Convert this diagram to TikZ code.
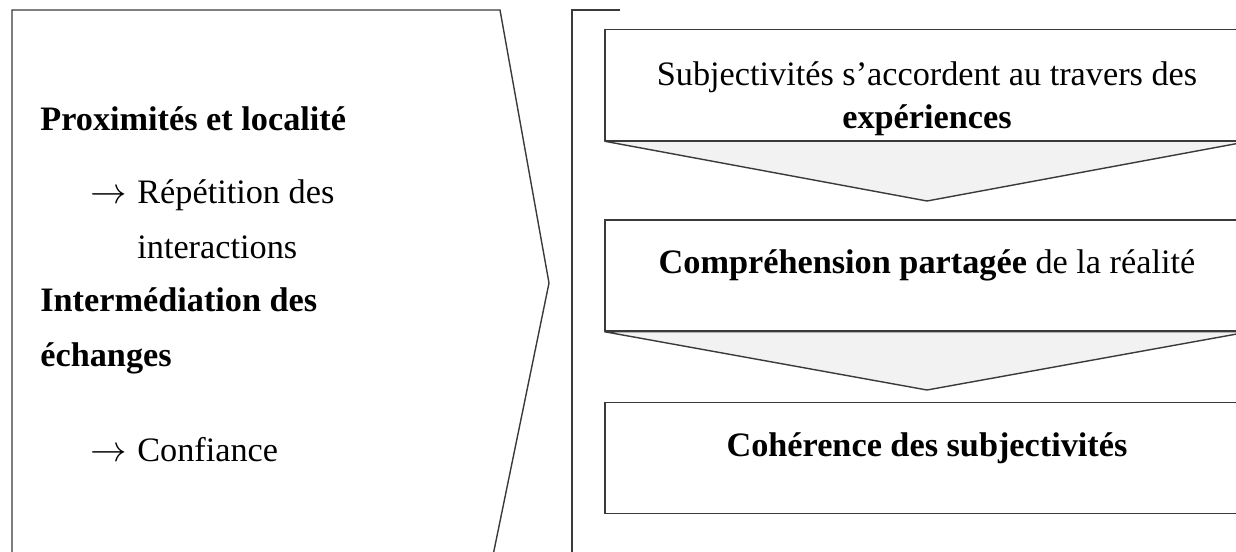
\documentclass[tikz,border=0pt]{standalone}
\usepackage{fontspec}
\setmainfont{Liberation Serif}
\usetikzlibrary{positioning}
\definecolor{linegray}{HTML}{3A3A3A}
\definecolor{arrowfill}{HTML}{F2F2F2}
\tikzset{
x=0.02cm, y=-0.02cm, % one unit is one pixel of the reference
outline/.style={draw=linegray, line width=0.8pt}, % all frame lines
flowbox/.style={outline, rectangle, minimum width=12.88cm, minimum height=2.22cm, inner sep=0pt}, % boxes on the right
flowarrow/.style={outline, fill=arrowfill, line join=miter}, % grey arrows between the boxes
lefttext/.style={anchor=base west, inner sep=0pt, font=\fontsize{19.5}{23}\selectfont}, % text in the chevron
boxtext/.style={anchor=base, inner sep=0pt, font=\fontsize{19.5}{23}\selectfont}, % text in the boxes
}

\begin{document}
\begin{tikzpicture}
  \useasboundingbox (0,0) rectangle (1236,551);
  \clip (0,0) rectangle (1236,551);

  % chevron on the left
  \draw[outline] (12,570) -- (12,10) -- (500,10) -- (549,283) -- (490,570);
  \node[lefttext] (prox) at (40,130) {\textbf{Proximités et localité}};
  \node[lefttext] (arr1) at (90,203) {$\rightarrow$};
  \node[lefttext] (rep) at (137,203) {Répétition des};
  \node[lefttext] (inter) at (137,258) {interactions};
  \node[lefttext] (interm) at (40,311) {\textbf{Intermédiation des}};
  \node[lefttext] (ech) at (40,366) {\textbf{échanges}};
  \node[lefttext] (arr2) at (90,461) {$\rightarrow$};
  \node[lefttext] (conf) at (137,461) {Confiance};

  % bracket
  \draw[outline] (620,10) -- (572,10) -- (572,570);

  % boxes on the right
  \node[flowbox] (exp) at (927,85) {};
  \node[flowbox] (comp) at (927,275.5) {};
  \node[flowbox] (coh) at (927,458) {};
  \coordinate (tip1) at (927,201);
  \coordinate (tip2) at (927,390);
  \draw[flowarrow] (exp.south west) -- (exp.south east) -- (tip1) -- cycle;
  \draw[flowarrow] (comp.south west) -- (comp.south east) -- (tip2) -- cycle;

  \node[boxtext] (exp1) at (927,85) {Subjectivités s’accordent au travers des};
  \node[boxtext] (exp2) at (927,128) {\textbf{expériences}};
  \node[boxtext] (comptxt) at (927,273) {\textbf{Compréhension partagée} de la réalité};
  \node[boxtext] (cohtxt) at (927,456) {\textbf{Cohérence des subjectivités}};
\end{tikzpicture}
\end{document}
